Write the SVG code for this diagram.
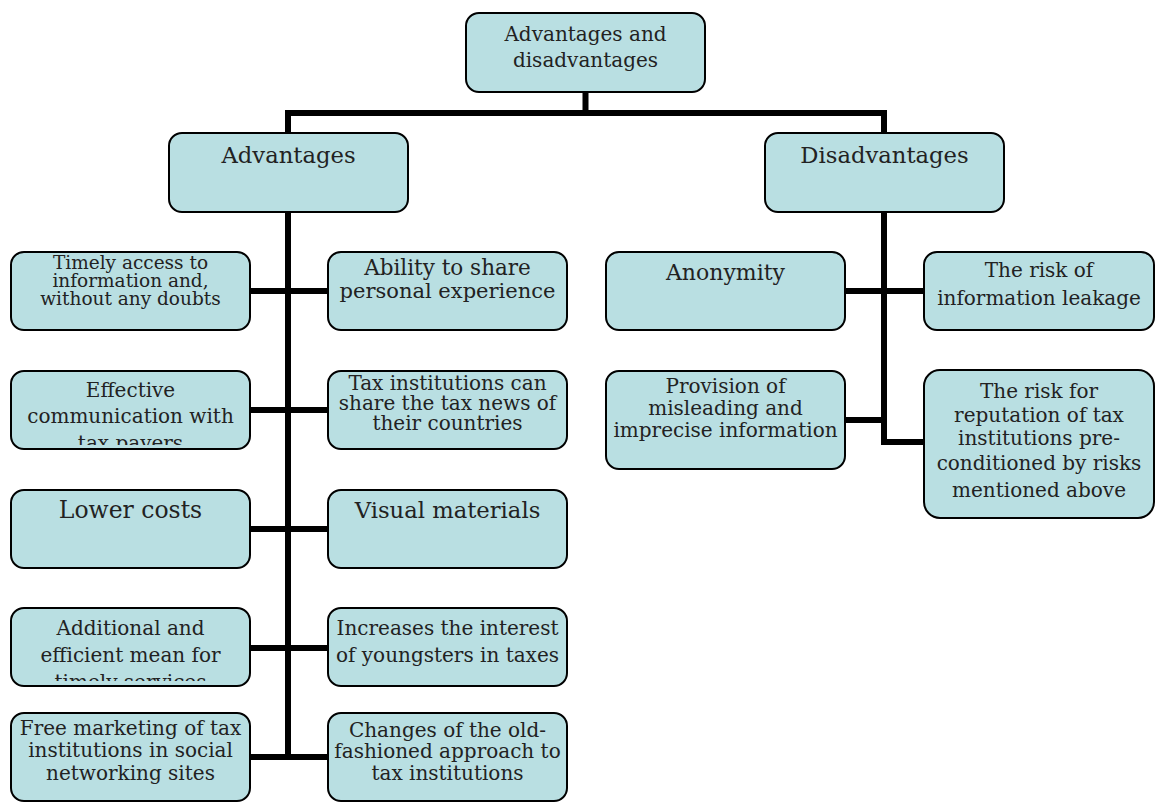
<svg xmlns="http://www.w3.org/2000/svg" width="1155" height="802" viewBox="0 0 1155 802">
<style>
.box{fill:#b9dfe2;stroke:#000;stroke-width:2}
.t{font-family:"DejaVu Serif","Liberation Serif",serif;fill:#222;text-anchor:middle;font-size:20px}
.big{font-size:22.7px}
.sm{font-size:18.5px}
.c{fill:none;stroke:#000;stroke-width:6}
</style>
<defs>
<clipPath id="clipEff"><rect x="11" y="371" width="239" height="74"/></clipPath>
<clipPath id="clipAdd"><rect x="11" y="608" width="239" height="73"/></clipPath>
</defs>
<g id="connectors">
<path class="c" d="M585.5 92V113M288 113H884M288 110V133M884 110V133"/>
<path class="c" d="M288 212V758M250 291H328M250 410H328M250 529H328M250 648H328M250 757H328"/>
<path class="c" d="M884 212V442H924M845 291H924M845 420H884"/>
</g>
<g id="root"><rect class="box" x="466" y="13" width="239" height="79" rx="13"/><text class="t" x="585.5" y="41">Advantages and</text><text class="t" x="585.5" y="67">disadvantages</text></g>
<g id="advantages"><rect class="box" x="169" y="133" width="239" height="79" rx="13"/><text class="t big" x="288.5" y="163">Advantages</text></g>
<g id="disadvantages"><rect class="box" x="765" y="133" width="239" height="79" rx="13"/><text class="t big" x="884.5" y="163">Disadvantages</text></g>
<g id="timely"><rect class="box" x="11" y="252" width="239" height="78" rx="13"/><text class="t sm" x="130.5" y="269">Timely access to</text><text class="t sm" x="130.5" y="287">information and,</text><text class="t sm" x="130.5" y="305">without any doubts</text></g>
<g id="ability"><rect class="box" x="328" y="252" width="239" height="78" rx="13"/><text class="t" x="447.5" y="275" style="font-size:21.5px">Ability to share</text><text class="t" x="447.5" y="298" style="font-size:21px">personal experience</text></g>
<g id="effective"><rect class="box" x="11" y="371" width="239" height="78" rx="13"/><g clip-path="url(#clipEff)"><text class="t" x="130.5" y="397">Effective</text><text class="t" x="130.5" y="423">communication with</text><text class="t" x="130.5" y="450">tax payers</text></g></g>
<g id="taxnews"><rect class="box" x="328" y="371" width="239" height="78" rx="13"/><text class="t" x="447.5" y="390">Tax institutions can</text><text class="t" x="447.5" y="410">share the tax news of</text><text class="t" x="447.5" y="430">their countries</text></g>
<g id="lower"><rect class="box" x="11" y="490" width="239" height="78" rx="13"/><text class="t big" x="130.5" y="518" style="font-size:23.5px">Lower costs</text></g>
<g id="visual"><rect class="box" x="328" y="490" width="239" height="78" rx="13"/><text class="t big" x="447.5" y="518">Visual materials</text></g>
<g id="additional"><rect class="box" x="11" y="608" width="239" height="78" rx="13"/><g clip-path="url(#clipAdd)"><text class="t" x="130.5" y="635">Additional and</text><text class="t" x="130.5" y="662">efficient mean for</text><text class="t" x="130.5" y="689">timely services</text></g></g>
<g id="youngsters"><rect class="box" x="328" y="608" width="239" height="78" rx="13"/><text class="t" x="447.5" y="635">Increases the interest</text><text class="t" x="447.5" y="662">of youngsters in taxes</text></g>
<g id="marketing"><rect class="box" x="11" y="713" width="239" height="88" rx="13"/><text class="t" x="130.5" y="735">Free marketing of tax</text><text class="t" x="130.5" y="757">institutions in social</text><text class="t" x="130.5" y="780">networking sites</text></g>
<g id="changes"><rect class="box" x="328" y="713" width="239" height="88" rx="13"/><text class="t" x="447.5" y="737">Changes of the old-</text><text class="t" x="447.5" y="758">fashioned approach to</text><text class="t" x="447.5" y="780">tax institutions</text></g>
<g id="anonymity"><rect class="box" x="606" y="252" width="239" height="78" rx="13"/><text class="t big" x="725.5" y="280" style="font-size:22px">Anonymity</text></g>
<g id="provision"><rect class="box" x="606" y="371" width="239" height="98" rx="13"/><text class="t" x="725.5" y="393">Provision of</text><text class="t" x="725.5" y="415">misleading and</text><text class="t" x="725.5" y="437">imprecise information</text></g>
<g id="leakage"><rect class="box" x="924" y="252" width="230" height="78" rx="13"/><text class="t" x="1039" y="277">The risk of</text><text class="t" x="1039" y="305">information leakage</text></g>
<g id="reputation"><rect class="box" x="924" y="370" width="230" height="148" rx="16"/><text class="t" x="1039" y="398">The risk for</text><text class="t" x="1039" y="422">reputation of tax</text><text class="t" x="1039" y="445">institutions pre-</text><text class="t" x="1039" y="470">conditioned by risks</text><text class="t" x="1039" y="497">mentioned above</text></g>
</svg>
